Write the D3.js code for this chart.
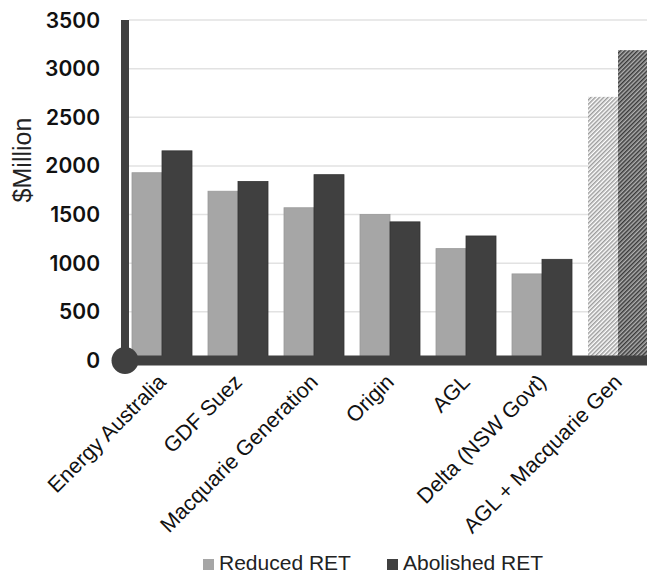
<!DOCTYPE html>
<html>
<head>
<meta charset="utf-8">
<script src="https://cdn.jsdelivr.net/npm/d3@7"></script>
<style>
  html, body { margin: 0; padding: 0; background: #fff; }
  svg { display: block; }
</style>
</head>
<body>
<div id="chart"></div>
<script>
const categories = ["Energy Australia", "GDF Suez", "Macquarie Generation", "Origin", "AGL", "Delta (NSW Govt)", "AGL + Macquarie Gen"];
const seriesNames = ["Reduced RET", "Abolished RET"];
const reducedRET = [1930, 1740, 1570, 1500, 1150, 890, 2710];
const abolishedRET = [2155, 1840, 1910, 1425, 1280, 1040, 3190];
const hatched = [false, false, false, false, false, false, true];
const yTicks = [0, 500, 1000, 1500, 2000, 2500, 3000, 3500];
const yLabel = "$Million";

const W = 647, H = 573;
const colors = ["#a6a6a6", "#404040"];

const svg = d3.select("#chart").append("svg").attr("width", W).attr("height", H);

const defs = svg.append("defs");
function hatch(id, fg, bg) {
  const p = defs.append("pattern").attr("id", id).attr("patternUnits", "userSpaceOnUse")
    .attr("width", 3).attr("height", 3).attr("patternTransform", "rotate(45)");
  p.append("rect").attr("width", 3).attr("height", 3).attr("fill", bg);
  p.append("rect").attr("width", 1.5).attr("height", 3).attr("fill", fg);
}
hatch("h0", "#9c9c9c", "#ffffff");
hatch("h1", "#3a3a3a", "#b0b0b0");

const x0 = 124, step = 76;
const x = d3.scaleBand().domain(categories).range([x0, x0 + step * categories.length])
  .paddingInner(16 / 76).paddingOuter(8 / 76);
const xs = d3.scaleBand().domain(seriesNames).range([0, x.bandwidth()]);
const y = d3.scaleLinear().domain([0, 3500]).range([360.5, 20]);

// gridlines
svg.append("g").selectAll("line").data(yTicks.filter(d => d > 0)).join("line")
  .attr("x1", 129).attr("x2", W).attr("y1", d => y(d)).attr("y2", d => y(d))
  .attr("stroke", "#e2e2e2").attr("stroke-width", 1.5);

// bars
const data = categories.map((c, i) => ({ c, vals: [reducedRET[i], abolishedRET[i]], h: hatched[i] }));
const g = svg.append("g");
data.forEach(d => {
  d.vals.forEach((v, j) => {
    g.append("rect")
      .attr("x", x(d.c) + xs(seriesNames[j]))
      .attr("y", y(v))
      .attr("width", xs.bandwidth())
      .attr("height", y(0) - y(v))
      .attr("fill", d.h ? `url(#h${j})` : colors[j])
      .attr("stroke", d.h ? "none" : (j === 0 ? "#999" : "#333"))
      .attr("stroke-width", 0.8);
  });
});

// axes
const axisColor = "#404040";
svg.append("line").attr("x1", 125).attr("x2", 125).attr("y1", y(3500)).attr("y2", y(0))
  .attr("stroke", axisColor).attr("stroke-width", 8);
svg.append("line").attr("x1", 125).attr("x2", W).attr("y1", y(0)).attr("y2", y(0))
  .attr("stroke", axisColor).attr("stroke-width", 10);
svg.append("circle").attr("cx", 125).attr("cy", y(0)).attr("r", 13.5).attr("fill", axisColor);

// y tick labels
svg.append("g").selectAll("text").data(yTicks).join("text")
  .attr("x", 100).attr("y", d => y(d)).attr("dy", "0.36em")
  .attr("text-anchor", "end")
  .attr("font-family", "Inter, 'Liberation Sans', sans-serif")
  .attr("font-weight", 600).attr("font-size", 21).attr("fill", "#111")
  .text(d => d);

// y label
svg.append("text")
  .attr("transform", "translate(31,160) rotate(-90)")
  .attr("text-anchor", "middle")
  .attr("font-family", "'Liberation Sans', Arial, sans-serif")
  .attr("font-size", 25).attr("fill", "#222")
  .text(yLabel);

// category labels
svg.append("g").selectAll("text").data(categories).join("text")
  .attr("transform", d => `translate(${x(d) + x.bandwidth() / 2},${378}) rotate(-45)`)
  .attr("text-anchor", "end")
  .attr("dy", "0.35em")
  .attr("font-family", "'Liberation Sans', Arial, sans-serif")
  .attr("font-size", 21.5).attr("fill", "#111")
  .text(d => d);

// legend
const leg = svg.append("g");
const legX = [203, 387];
seriesNames.forEach((s, i) => {
  leg.append("rect").attr("x", legX[i]).attr("y", 559).attr("width", 11).attr("height", 11).attr("fill", colors[i]);
  leg.append("text").attr("x", legX[i] + 16).attr("y", 570)
    .attr("font-family", "'Liberation Sans', Arial, sans-serif")
    .attr("font-size", 21).attr("fill", "#222").text(s);
});
</script>
</body>
</html>
